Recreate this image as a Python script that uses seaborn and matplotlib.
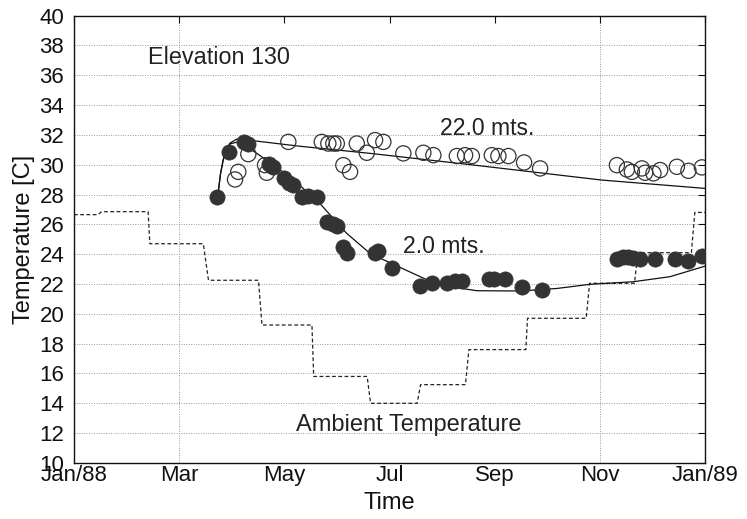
import numpy as np
import pandas as pd
import matplotlib
matplotlib.use("Agg")
import matplotlib.pyplot as plt
import seaborn as sns

# days since Jan 1 1988
tick_days = [0, 61, 122, 183, 244, 305, 366]
tick_labels = ["Jan/88", "Mar", "May", "Jul", "Sep", "Nov", "Jan/89"]

# measured at 2.0 m (filled)
d2_day = [83.1, 90.1, 98.6, 100.9, 113.3, 115.2, 121.8, 124.9, 127.2, 132.0, 135.9, 140.8,
          146.6, 150.4, 152.4, 156.2, 158.2, 174.6, 176.5, 184.3, 200.7, 207.5, 216.2, 221.0,
          224.9, 240.7, 243.6, 250.0, 259.7, 271.3, 314.8, 318.6, 321.5, 324.4, 328.3, 337.0,
          348.6, 356.3, 364.1]
d2_temp = [27.81, 30.82, 31.51, 31.38, 30.04, 29.86, 29.08, 28.79, 28.63, 27.81, 27.90, 27.85,
           26.17, 26.02, 25.88, 24.50, 24.10, 24.05, 24.20, 23.05, 21.86, 22.08, 22.04, 22.22,
           22.22, 22.33, 22.33, 22.31, 21.82, 21.60, 23.65, 23.79, 23.79, 23.72, 23.65, 23.65,
           23.65, 23.56, 23.87]

# measured at 22.0 m (open)
d22_day = [93.4, 95.3, 101.1, 110.8, 111.8, 124.3, 143.7, 147.5, 150.4, 152.4, 156.2, 160.1,
           164.0, 169.8, 174.6, 179.4, 191.0, 202.6, 208.4, 222.0, 226.8, 230.7, 242.3, 246.1,
           251.9, 261.0, 270.3, 314.8, 320.6, 323.5, 329.3, 331.2, 336.0, 339.9, 349.6, 356.3,
           364.1]
d22_temp = [29.01, 29.52, 30.71, 29.97, 29.46, 31.53, 31.53, 31.42, 31.42, 31.42, 29.97, 29.52,
            31.42, 30.80, 31.65, 31.53, 30.76, 30.80, 30.64, 30.58, 30.64, 30.58, 30.64, 30.58,
            30.58, 30.15, 29.75, 29.97, 29.68, 29.52, 29.75, 29.46, 29.42, 29.64, 29.86, 29.59,
            29.82]

# model curves
m22_day = [83.5, 85.0, 86.5, 88.0, 90.5, 94.5, 101.0, 130.0, 171.7, 230.0, 306.0, 366.0]
m22_temp = [28.0, 29.4, 30.3, 30.9, 31.45, 31.72, 31.65, 31.25, 30.76, 30.0, 28.97, 28.41]

m2_day = [83.5, 85.0, 86.5, 88.0, 90.5, 96.0, 111.8, 127.5, 142.6, 158.1, 171.7, 183.7,
          204.9, 218.0, 233.6, 258.7, 280.0, 299.3, 324.2, 345.6, 366.0]
m2_temp = [28.0, 29.4, 30.3, 30.9, 31.4, 31.55, 30.3, 28.97, 27.4, 25.4, 24.05, 23.4,
           22.27, 21.82, 21.55, 21.53, 21.70, 21.98, 22.15, 22.49, 23.2]

# ambient temperature steps
amb_day = [0, 14, 16, 43, 44, 75, 78, 107, 109, 138, 139, 170, 172, 199, 201, 227,
           229, 262, 263, 297, 299, 325, 327, 358, 360, 366]
amb_temp = [26.65, 26.65, 26.85, 26.85, 24.7, 24.7, 22.25, 22.25, 19.25, 19.25, 15.8, 15.8,
            14.0, 14.0, 15.25, 15.25, 17.6, 17.6, 19.7, 19.7, 22.05, 22.05, 24.1, 24.1,
            26.8, 26.8]

sns.set_style("white")
plt.rcParams["font.family"] = ["Liberation Sans", "DejaVu Sans"]

fig, ax = plt.subplots(figsize=(7.47, 5.19), dpi=100)
fig.subplots_adjust(left=0.099, right=0.944, top=0.970, bottom=0.108)

for yv in range(12, 40, 2):
    ax.axhline(yv, color="#999999", lw=0.7, ls=(0, (1, 1.5)), zorder=0)
for xv in [61, 305]:
    ax.axvline(xv, color="#999999", lw=0.7, ls=(0, (1, 1.5)), zorder=0)

sns.lineplot(x=amb_day, y=amb_temp, sort=False, estimator=None, color="#222222",
             lw=0.9, linestyle=(0, (3, 2)), ax=ax)
sns.lineplot(x=m22_day, y=m22_temp, sort=False, estimator=None, color="#111111", lw=0.9, ax=ax)
sns.lineplot(x=m2_day, y=m2_temp, sort=False, estimator=None, color="#111111", lw=0.9, ax=ax)
sns.scatterplot(x=d22_day, y=d22_temp, s=120, facecolor="none", edgecolor="#333333",
                linewidth=0.9, ax=ax, zorder=3)
sns.scatterplot(x=d2_day, y=d2_temp, s=120, color="#333333", edgecolor="#333333",
                linewidth=0.5, ax=ax, zorder=4)

ax.set_xlim(0, 366)
ax.set_ylim(10, 40)
ax.set_xticks(tick_days)
ax.set_xticklabels(tick_labels)
ax.set_yticks(range(10, 41, 2))
ax.tick_params(direction="in", top=True, right=True, length=5, width=0.8,
               labelsize=16, colors="#111111")
ax.tick_params(axis="y", pad=7)
ax.tick_params(axis="x", pad=1.5)
for sp in ax.spines.values():
    sp.set_linewidth(1.0)
    sp.set_color("#111111")
ax.set_xlabel("Time", fontsize=17, labelpad=4, color="#111111")
ax.set_ylabel("Temperature [C]", fontsize=17, labelpad=3, color="#111111")

ax.text(43, 37.2, "Elevation 130", fontsize=16.8, va="center", color="#222222")
ax.text(212, 32.45, "22.0 mts.", fontsize=16.6, va="center", color="#222222")
ax.text(191, 24.5, "2.0 mts.", fontsize=16.6, va="center", color="#222222")
ax.text(129, 12.55, "Ambient Temperature", fontsize=17, va="center", color="#222222")

fig.savefig("out.png", dpi=100)
